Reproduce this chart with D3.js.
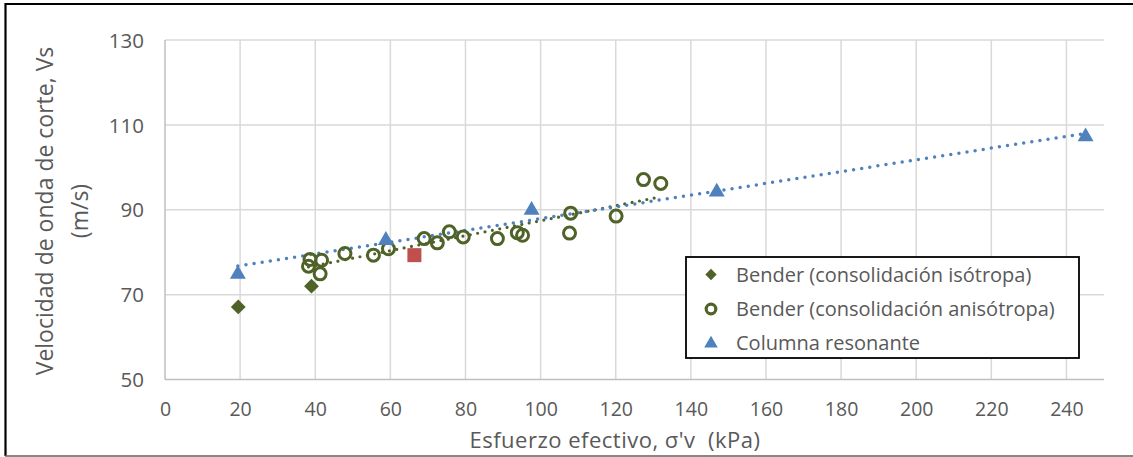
<!DOCTYPE html>
<html><head><meta charset="utf-8">
<script src="https://cdn.jsdelivr.net/npm/d3@7"></script>
<style>
html,body{margin:0;padding:0;background:#fff;}
text{font-family:"Open Sans","Noto Sans",sans-serif;fill:#595959;}
</style></head>
<body><svg id="c" width="1133" height="457"></svg>
<script>
// ---- data ----
const isoX = [19.5, 39.0];
const isoY = [67.1, 72.0];
const anisoX = [38.6, 38.2, 41.7, 41.3, 47.9, 55.5, 59.5, 69.0, 72.5, 75.7, 79.4, 88.5, 93.8, 95.2, 108.0, 107.7, 120.1, 127.4, 132.0];
const anisoY = [78.3, 76.7, 78.1, 74.9, 79.7, 79.3, 80.8, 83.2, 82.2, 84.8, 83.6, 83.2, 84.6, 84.0, 89.2, 84.5, 88.5, 97.1, 96.2];
const redX = [66.4];
const redY = [79.3];
const crX = [19.4, 58.8, 97.6, 146.9, 245.1];
const crY = [74.8, 82.8, 89.9, 94.2, 107.2];
const xTicks = [0,20,40,60,80,100,120,140,160,180,200,220,240];
const yTicks = [50,70,90,110,130];
const legendLabels = ["Bender (consolidación isótropa)","Bender (consolidación anisótropa)","Columna resonante"];

const olive = "#4F6228", blue = "#4F81BD", red = "#C0504D";
const FONT = '"Open Sans","Noto Sans",sans-serif';
const svg = d3.select("#c");
const x = d3.scaleLinear().domain([0,250]).range([165,1104]);
const y = d3.scaleLinear().domain([50,130]).range([379.5,40]);

// outer border
svg.append("line").attr("x1",5).attr("x2",1133).attr("y1",4).attr("y2",4).attr("stroke","#000").attr("stroke-width",2.2);
svg.append("line").attr("x1",5.5).attr("x2",5.5).attr("y1",3).attr("y2",456).attr("stroke","#000").attr("stroke-width",2.2);
svg.append("line").attr("x1",5).attr("x2",1133).attr("y1",456).attr("y2",456).attr("stroke","#606060").attr("stroke-width",1.5);

// gridlines
svg.append("g").selectAll("line").data(xTicks.filter(d=>d>0)).join("line")
  .attr("x1",d=>x(d)).attr("x2",d=>x(d)).attr("y1",y(130)).attr("y2",y(50))
  .attr("stroke","#d9d9d9").attr("stroke-width",1.5);
svg.append("g").selectAll("line").data(yTicks.filter(d=>d>50)).join("line")
  .attr("x1",x(0)).attr("x2",x(250)).attr("y1",d=>y(d)).attr("y2",d=>y(d))
  .attr("stroke","#d9d9d9").attr("stroke-width",1.5);
// axis lines
svg.append("line").attr("x1",x(0)).attr("x2",x(0)).attr("y1",y(130)).attr("y2",y(50)).attr("stroke","#bfbfbf").attr("stroke-width",1.5);
svg.append("line").attr("x1",x(0)).attr("x2",x(250)).attr("y1",y(50)).attr("y2",y(50)).attr("stroke","#bfbfbf").attr("stroke-width",1.5);

// axes via d3 axis (labels only)
const xa = svg.append("g").attr("transform",`translate(0,${y(50)})`)
  .call(d3.axisBottom(x).tickValues(xTicks).tickSize(0).tickPadding(23));
xa.select(".domain").remove();
xa.selectAll("text").attr("font-size",19.5).attr("fill","#595959").style("font-family",FONT);
const ya = svg.append("g").attr("transform",`translate(${x(0)},0)`)
  .call(d3.axisLeft(y).tickValues(yTicks).tickSize(0).tickPadding(21));
ya.select(".domain").remove();
ya.selectAll("text").attr("font-size",20.5).attr("fill","#595959").attr("dy","0.35em").style("font-family",FONT);

// axis titles
svg.append("text").attr("x",615).attr("y",448).attr("text-anchor","middle").attr("font-size",22)
  .attr("letter-spacing",0.5).style("white-space","pre").text("Esfuerzo efectivo, σ'v  (kPa)");
const yt = svg.append("text").attr("transform",`translate(0,211) rotate(-90)`).attr("text-anchor","middle").attr("font-size",23);
yt.append("tspan").attr("x",0).attr("y",53).text("Velocidad de onda de corte, Vs");
yt.append("tspan").attr("x",0).attr("y",88).text("(m/s)");

// trendlines (least squares)
function fit(xs,ys){
  const n=xs.length, mx=d3.mean(xs), my=d3.mean(ys);
  let sxy=0,sxx=0; for(let i=0;i<n;i++){sxy+=(xs[i]-mx)*(ys[i]-my);sxx+=(xs[i]-mx)**2;}
  const b=sxy/sxx, a=my-b*mx; const x0=d3.min(xs), x1=d3.max(xs);
  return [[x0,a+b*x0],[x1,a+b*x1]];
}
const line = d3.line().x(d=>x(d[0])).y(d=>y(d[1]));
svg.append("path").attr("d",line(fit(anisoX,anisoY))).attr("stroke",olive).attr("stroke-width",3.2)
  .attr("fill","none").attr("stroke-linecap","round").attr("stroke-dasharray","0,7.5");
svg.append("path").attr("d",line(fit(crX,crY))).attr("stroke",blue).attr("stroke-width",3.5)
  .attr("fill","none").attr("stroke-linecap","round").attr("stroke-dasharray","0,8.2");

// markers
const sym = (t,s)=>d3.symbol().type(t).size(s)();
svg.append("g").selectAll("path").data(isoX.map((v,i)=>[v,isoY[i]])).join("path")
  .attr("d",sym(d3.symbolSquare,110)).attr("fill",olive)
  .attr("transform",d=>`translate(${x(d[0])},${y(d[1])}) rotate(45)`);
svg.append("g").selectAll("circle").data(anisoX.map((v,i)=>[v,anisoY[i]])).join("circle")
  .attr("cx",d=>x(d[0])).attr("cy",d=>y(d[1])).attr("r",6).attr("fill","none")
  .attr("stroke",olive).attr("stroke-width",3);
svg.append("g").selectAll("rect").data(redX.map((v,i)=>[v,redY[i]])).join("rect")
  .attr("x",d=>x(d[0])-7).attr("y",d=>y(d[1])-7).attr("width",14).attr("height",14).attr("fill",red);
svg.append("g").selectAll("path").data(crX.map((v,i)=>[v,crY[i]])).join("path")
  .attr("d",sym(d3.symbolTriangle,110)).attr("fill",blue)
  .attr("transform",d=>`translate(${x(d[0])},${y(d[1])})`);

// legend
const lg = svg.append("g");
lg.append("rect").attr("x",686).attr("y",257).attr("width",393).attr("height",101)
  .attr("fill","#fff").attr("stroke","#000").attr("stroke-width",1.8);
const ly = [274.5, 309, 342.5];
lg.append("path").attr("d",sym(d3.symbolSquare,64)).attr("fill",olive).attr("transform",`translate(711,${ly[0]}) rotate(45)`);
lg.append("circle").attr("cx",711).attr("cy",ly[1]).attr("r",4.8).attr("fill","none").attr("stroke",olive).attr("stroke-width",3.2);
lg.append("path").attr("d",sym(d3.symbolTriangle,80)).attr("fill",blue).attr("transform",`translate(711,${ly[2]+1})`);
lg.selectAll("text.l").data(legendLabels).join("text").attr("class","l")
  .attr("x",736).attr("y",(d,i)=>ly[i]).attr("dy","0.35em").attr("font-size",20).text(d=>d);
</script></body></html>
